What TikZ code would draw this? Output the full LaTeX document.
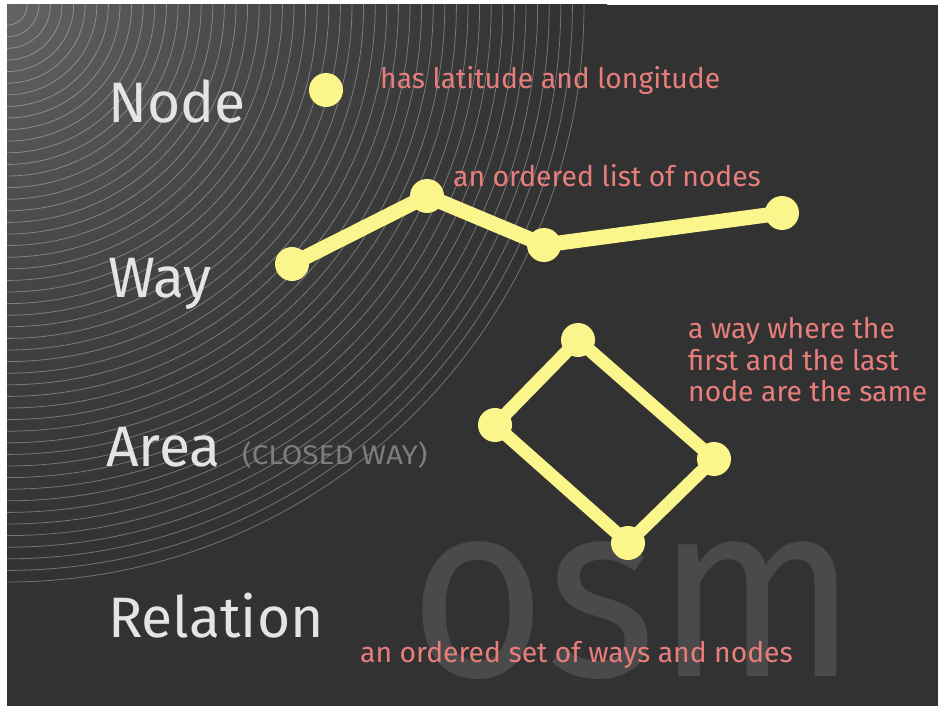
\documentclass[tikz,border=0pt]{standalone}
\usepackage{fontspec}
\setmainfont{Fira Sans}
\usetikzlibrary{calc}

\definecolor{bgdark}{RGB}{50,50,50}
\definecolor{glowin}{RGB}{100,100,100}
\definecolor{osmyellow}{RGB}{250,246,140}
\definecolor{notered}{RGB}{232,126,124}
\definecolor{labelgray}{RGB}{228,228,228}
\definecolor{hintgray}{RGB}{125,125,125}
\definecolor{markgray}{RGB}{74,74,74}

\tikzset{
  arcline/.style={white, opacity=0.32, line width=0.8pt},
  dot/.style={circle, fill=osmyellow, inner sep=0pt, minimum size=34pt},
  wayline/.style={osmyellow, line width=15pt, line join=round},
  arealine/.style={osmyellow, line width=13pt, line join=round},
  biglabel/.style={anchor=base west, inner sep=0pt, text=labelgray, font=\fontsize{57}{60}\selectfont},
  note/.style={anchor=base west, inner sep=0pt, text=notered, font=\fontsize{28.3}{32}\selectfont},
  hint/.style={anchor=base west, inner sep=0pt, text=hintgray, font=\fontsize{27}{30}\selectfont},
}

\begin{document}
\begin{tikzpicture}[x=1pt,y=-1pt]
\useasboundingbox (0,0) rectangle (938,706);
\fill[white] (0,0) rectangle (938,706);
\fill[bgdark] (7,5) rectangle (938,706);

% soft glow and concentric rings in the upper left corner
\begin{scope}
  \clip (7,5) rectangle (938,706);
  \foreach \r in {600,592,...,8} {
    \pgfmathsetmacro{\p}{100*(1-\r/600)^1.5}
    \fill[glowin!\p!bgdark] (7,5) circle ({\r*1pt});
  }
  \foreach \k in {0,...,48}
    \draw[arcline] (7,5) circle ({(577-11.6*\k)*1pt});
\end{scope}

% watermark
\node[anchor=base west, inner sep=0pt, text=markgray,
      font=\fontsize{250}{250}\selectfont] (mark) at (409,676) {\scalebox{0.94}[1]{osm}};

% headings
\node[biglabel] (lnode) at (108,123) {Node};
\node[biglabel] (lway)  at (108,298) {Way};
\node[biglabel] (larea) at (106,466) {Area};
\node[hint]     (lclosed) at (242,464) {\scalebox{1.1}[1]{(CLOSED WAY)}};
\node[biglabel] (lrel)  at (108,637) {Relation};

% a single node
\node[dot] (n1) at (326,90) {};

% a way
\node[dot] (w1) at (292,264) {};
\node[dot] (w2) at (427,196) {};
\node[dot] (w3) at (544,245) {};
\node[dot] (w4) at (782,213) {};
\draw[wayline] (w1.center) -- (w2.center) -- (w3.center) -- (w4.center);

% a closed way
\node[dot] (a1) at (578,340) {};
\node[dot] (a2) at (714,459) {};
\node[dot] (a3) at (628,543) {};
\node[dot] (a4) at (495,425) {};
\draw[arealine] (a1.center) -- (a2.center) -- (a3.center) -- (a4.center) -- cycle;

% descriptions
\node[note] (tnode) at (380,89) {has latitude and longitude};
\node[note] (tway)  at (453,186) {an ordered list of nodes};
\node[note] (tarea1) at (688,338) {a way where the};
\node[note] (tarea2) at (688,370) {first and the last};
\node[note] (tarea3) at (688,401) {node are the same};
\node[note] (trel)  at (360,662) {an ordered set of ways and nodes};
\end{tikzpicture}
\end{document}
